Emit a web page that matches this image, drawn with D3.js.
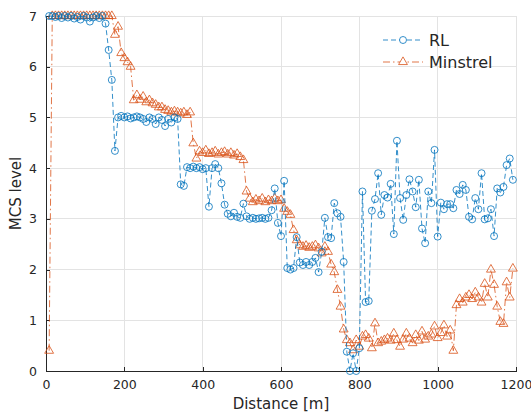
<!DOCTYPE html>
<html>
<head>
<meta charset="utf-8">
<script src="https://cdn.jsdelivr.net/npm/d3@7"></script>
<style>
  html, body { margin: 0; padding: 0; background: #fff; }
  svg { display: block; font-family: "DejaVu Sans", sans-serif; }
</style>
</head>
<body>
<svg id="chart" width="531" height="414"></svg>
<script>
// Sampling grid: one sample every 8 m along the route
const distanceStep = 8;

// MCS level chosen by the RL agent at each sample
const rlMcs = [
  7.0, 7.0, 6.98, 7.0, 6.96, 7.0, 6.97, 7.0, 6.95, 6.98,
  6.93, 7.0, 6.97, 6.89, 6.97, 7.0, 6.96, 7.0, 6.85, 6.33,
  5.74, 4.34, 5.0, 5.03, 5.0, 5.02, 4.98, 5.0, 5.02, 5.0,
  4.97, 4.91, 5.0, 4.97, 4.87, 5.0, 4.95, 4.83, 4.97, 4.9,
  5.0, 4.97, 3.68, 3.65, 4.02, 4.0, 4.03, 4.0, 4.02, 3.98,
  4.0, 3.24, 4.0, 4.08, 4.0, 3.7, 3.28, 3.1, 3.05, 3.12,
  3.04, 3.02, 3.3, 3.05, 3.0, 3.02, 3.0, 3.01, 3.02, 3.0,
  3.02, 3.17, 3.6, 2.92, 2.66, 3.75, 2.03, 2.0, 2.03, 2.64,
  2.14, 2.09, 2.15, 2.09, 2.15, 2.23, 1.95, 2.35, 3.02, 2.64,
  2.62, 3.31, 3.11, 3.04, 2.15, 0.38, 0.0, 0.35, 0.0, 0.45,
  3.54, 1.36, 1.38, 3.16, 3.39, 3.9, 3.08, 3.47, 3.42, 3.69,
  2.7, 4.54, 3.41, 2.98, 3.47, 3.78, 3.54, 3.23, 3.77, 2.81,
  2.52, 3.54, 3.31, 4.36, 2.65, 3.32, 3.19, 3.29, 3.29, 3.21,
  3.57, 3.49, 3.67, 3.57, 3.04, 2.99, 3.41, 3.19, 3.9, 2.99,
  3.01, 3.19, 2.66, 3.6, 3.52, 3.63, 4.06, 4.19, 3.77
];

// MCS level chosen by Minstrel at each sample
const minstrelMcs = [
  0.4, 7.0, 7.0, 7.0, 7.0, 7.0, 7.0, 7.0, 7.0, 7.0,
  7.0, 7.0, 7.0, 7.0, 7.0, 7.0, 7.0, 7.0, 7.0, 7.0,
  7.0, 6.63, 6.79, 6.27, 6.17, 6.09, 6.0, 5.34, 5.44, 5.35,
  5.41, 5.3, 5.34, 5.28, 5.25, 5.2, 5.2, 5.15, 5.13, 5.1,
  5.12, 5.1, 5.08, 5.1, 5.05, 5.1, 4.49, 4.19, 4.33, 4.3,
  4.35, 4.28, 4.3, 4.33, 4.27, 4.3, 4.32, 4.27, 4.3, 4.25,
  4.28, 4.22, 4.16, 3.54, 3.4, 3.33, 3.38, 3.35, 3.4, 3.33,
  3.37, 3.35, 3.4, 3.35, 3.37, 3.2, 3.14, 3.08, 2.78, 2.58,
  2.48, 2.45, 2.47, 2.43, 2.45, 2.48, 2.42, 2.32, 2.45, 2.35,
  2.1, 1.95, 1.6, 1.27, 0.82, 0.61, 0.55, 0.41, 0.61, 0.48,
  0.68, 0.71, 0.64, 0.45, 0.94, 0.55, 0.58, 0.61, 0.64, 0.6,
  0.74, 0.61, 0.48, 0.62, 0.74, 0.64, 0.55, 0.71, 0.6, 0.78,
  0.62, 0.68, 0.72, 0.88, 0.65, 0.75, 0.9, 0.68, 0.8, 0.4,
  1.3, 1.42, 1.35, 1.45, 1.5, 1.42, 1.55, 1.45, 1.35, 1.72,
  1.45, 2.0, 1.7, 1.27, 0.97, 0.93, 1.75, 1.45, 2.02
];

const xTicks = [0, 200, 400, 600, 800, 1000, 1200];
const yTicks = [0, 1, 2, 3, 4, 5, 6, 7];
const seriesNames = ["RL", "Minstrel"];
const xLabel = "Distance [m]";
const yLabel = "MCS level";

const colors = { RL: "#0072BD", Minstrel: "#D95319" };

const margin = { left: 46, right: 15, top: 16, bottom: 43 };
const W = 531, H = 414;
const svg = d3.select("#chart");

const x = d3.scaleLinear().domain([0, 1200]).range([margin.left, W - margin.right]);
const y = d3.scaleLinear().domain([0, 7]).range([H - margin.bottom, margin.top]);

const toPoints = vals => vals.map((v, i) => ({ d: (i + 1) * distanceStep, v }));
const rlPts = toPoints(rlMcs);
const minPts = toPoints(minstrelMcs);

// grid
const grid = svg.append("g").attr("class", "grid");
grid.selectAll("line.gx").data(xTicks).join("line")
  .attr("x1", d => x(d)).attr("x2", d => x(d))
  .attr("y1", y(0)).attr("y2", y(7))
  .attr("stroke", "#e3e3e3").attr("stroke-width", 1).attr("shape-rendering", "crispEdges");
grid.selectAll("line.gy").data(yTicks).join("line")
  .attr("x1", x(0)).attr("x2", x(1200))
  .attr("y1", d => y(d)).attr("y2", d => y(d))
  .attr("stroke", "#e3e3e3").attr("stroke-width", 1).attr("shape-rendering", "crispEdges");

// axes
const axisColor = "#262626";
const intFmt = d3.format("d");
const xAxis = svg.append("g").attr("transform", `translate(0,${y(0)})`)
  .call(d3.axisBottom(x).tickValues(xTicks).tickFormat(intFmt)
    .tickSizeInner(-4).tickSizeOuter(0).tickPadding(9));
const yAxis = svg.append("g").attr("transform", `translate(${x(0)},0)`)
  .call(d3.axisLeft(y).tickValues(yTicks).tickFormat(intFmt)
    .tickSizeInner(-4).tickSizeOuter(0).tickPadding(9));
[xAxis, yAxis].forEach(a => {
  a.select(".domain").attr("stroke", axisColor).attr("stroke-width", 1).attr("shape-rendering", "crispEdges");
  a.selectAll(".tick line").attr("stroke", axisColor).attr("shape-rendering", "crispEdges");
  a.selectAll(".tick text").attr("fill", axisColor).attr("font-size", 12.5)
    .attr("font-family", "DejaVu Sans, sans-serif");
});

svg.append("text").attr("x", (x(0) + x(1200)) / 2).attr("y", H - 5)
  .attr("text-anchor", "middle").attr("font-size", 15).attr("fill", axisColor).text(xLabel);
svg.append("text").attr("transform", `translate(21,${(y(0) + y(7)) / 2}) rotate(-90)`)
  .attr("text-anchor", "middle").attr("font-size", 15).attr("fill", axisColor).text(yLabel);

const line = d3.line().x(p => x(p.d)).y(p => y(p.v));

// Minstrel series: dash-dot line with open triangles
svg.append("path").datum(minPts).attr("d", line)
  .attr("fill", "none").attr("stroke", colors.Minstrel).attr("stroke-width", 0.8)
  .attr("stroke-dasharray", "7,3,1.5,3");
const tri = d3.symbol().type(d3.symbolTriangle).size(34);
svg.append("g").selectAll("path").data(minPts).join("path")
  .attr("d", tri).attr("transform", p => `translate(${x(p.d)},${y(p.v)})`)
  .attr("fill", "none").attr("stroke", colors.Minstrel).attr("stroke-width", 0.8);

// RL series: dashed line with open circles
svg.append("path").datum(rlPts).attr("d", line)
  .attr("fill", "none").attr("stroke", colors.RL).attr("stroke-width", 0.8)
  .attr("stroke-dasharray", "5,3");
svg.append("g").selectAll("circle").data(rlPts).join("circle")
  .attr("cx", p => x(p.d)).attr("cy", p => y(p.v)).attr("r", 3.5)
  .attr("fill", "none").attr("stroke", colors.RL).attr("stroke-width", 0.8);

// legend
const lg = svg.append("g").attr("transform", "translate(383,40)");
seriesNames.forEach((name, k) => {
  const g = lg.append("g").attr("transform", `translate(0,${k * 22})`);
  g.append("line").attr("x1", 0).attr("x2", 40).attr("y1", 0).attr("y2", 0)
    .attr("stroke", colors[name]).attr("stroke-width", 0.8)
    .attr("stroke-dasharray", name === "RL" ? "5,3" : "7,3,1.5,3");
  if (name === "RL") {
    g.append("circle").attr("cx", 20).attr("cy", 0).attr("r", 3.5)
      .attr("fill", "#fff").attr("stroke", colors[name]).attr("stroke-width", 0.8);
  } else {
    g.append("path").attr("d", tri).attr("transform", "translate(20,0)")
      .attr("fill", "#fff").attr("stroke", colors[name]).attr("stroke-width", 0.8);
  }
  g.append("text").attr("x", 46).attr("y", 0).attr("dy", "0.35em")
    .attr("font-size", 16).attr("fill", axisColor).text(name);
});
</script>
</body>
</html>
